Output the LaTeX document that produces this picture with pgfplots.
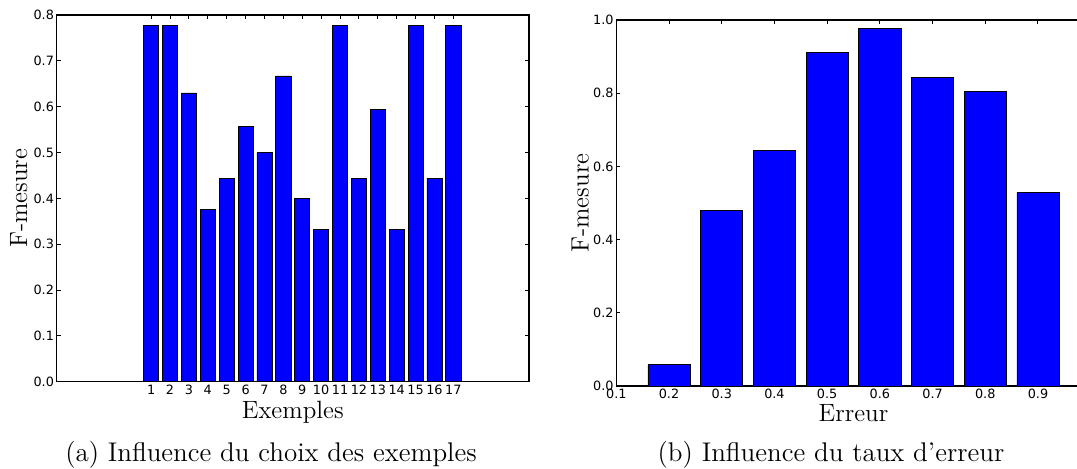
\documentclass[border=0pt]{standalone}
\usepackage{fontspec}
\usepackage{pgfplots}
\pgfplotsset{compat=1.18}
\newfontfamily\dejavu{DejaVu Sans}

\pgfplotsset{
  fmes/.style={
    scale only axis,
    ybar, bar shift=0pt,
    ymin=0,
    axis line style={line width=0.6pt},
    tick align=inside, major tick length=2pt,
    tick style={black, line width=0.5pt},
    /pgf/number format/assume math mode=true,
    tick label style={font=\dejavu\fontsize{6.4}{7}\selectfont},
    yticklabel style={inner sep=1.2pt, /pgf/number format/fixed,
      /pgf/number format/fixed zerofill, /pgf/number format/precision=1},
    xticklabel style={inner sep=1.5pt},
    label style={font=\fontsize{12.5}{14}\selectfont},
    ylabel={F-mesure},
  },
  barre/.style={fill=blue, draw=black, line width=0.4pt},
}

\begin{document}
\begin{tikzpicture}
\clip (0,0) rectangle (538.5pt,234pt);

% (a) choix des exemples
\begin{axis}[fmes,
  at={(28.35pt,43.15pt)}, anchor=south west,
  width=236.1pt, height=183.35pt,
  xmin=-4, xmax=21, ymax=0.8,
  bar width=0.8,
  xtick={1,...,17},
  ytick={0,0.1,...,0.8},
  xlabel={Exemples},
  xlabel style={at={(axis description cs:0.5,0)}, anchor=base, yshift=-18.5pt},
  ylabel style={at={(axis description cs:-0.0805,0.5)}, anchor=center},
]
\addplot[barre] coordinates {
  (1,0.778) (2,0.778) (3,0.630) (4,0.375) (5,0.444) (6,0.556)
  (7,0.500) (8,0.667) (9,0.400) (10,0.333) (11,0.778) (12,0.444)
  (13,0.593) (14,0.333) (15,0.778) (16,0.444) (17,0.778)
};
\end{axis}

% (b) taux d'erreur
\begin{axis}[fmes,
  at={(308.15pt,41pt)}, anchor=south west,
  width=237.2pt, height=183pt,
  xmin=0.1, xmax=1.0, ymax=1.0,
  bar width=0.08,
  xtick={0.1,0.2,...,0.9},
  ytick={0,0.2,...,1.0},
  xticklabel style={/pgf/number format/fixed,
    /pgf/number format/fixed zerofill, /pgf/number format/precision=1},
  xlabel={Erreur},
  xlabel style={at={(axis description cs:0.5,0)}, anchor=base, yshift=-17.5pt},
  ylabel style={at={(axis description cs:-0.0759,0.5)}, anchor=center},
]
\addplot[barre] coordinates {
  (0.1,0.0) (0.2,0.058) (0.3,0.479) (0.4,0.644) (0.5,0.911)
  (0.6,0.978) (0.7,0.844) (0.8,0.804) (0.9,0.529)
};
\end{axis}

\node[anchor=base, font=\fontsize{13.5}{15}\selectfont] at (135.5pt,3.5pt)
  {(a) Influence du choix des exemples};
\node[anchor=base, font=\fontsize{13.5}{15}\selectfont] at (415.5pt,3.5pt)
  {(b) Influence du taux d'erreur};
\end{tikzpicture}
\end{document}
